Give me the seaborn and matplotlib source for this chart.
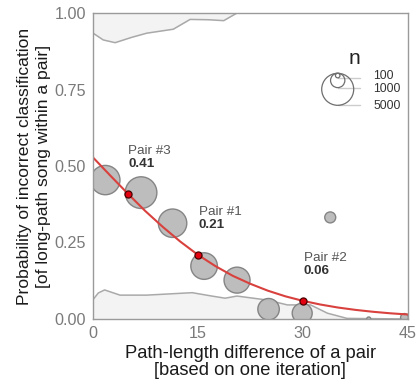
import numpy as np
import pandas as pd
import matplotlib
matplotlib.use("Agg")
import matplotlib.pyplot as plt
import seaborn as sns

# ---- data ----
bubble_x = [1.8, 6.9, 11.4, 15.9, 20.6, 25.1, 29.9, 33.9, 39.4, 44.5]
bubble_y = [0.454, 0.413, 0.313, 0.173, 0.127, 0.032, 0.019, 0.332, 0.0, 0.005]
bubble_n = [4200, 4900, 3950, 3450, 3300, 2250, 1950, 590, 80, 300]

curve_x = [0, 2.5, 5, 7.5, 10, 12.5, 15, 17.5, 20, 22.5, 25, 27.5, 30, 32.5,
           35, 37.5, 40, 42.5, 45]
curve_y = [0.529, 0.469, 0.410, 0.353, 0.301, 0.253, 0.210, 0.173, 0.141,
           0.115, 0.0925, 0.0741, 0.0593, 0.0473, 0.0375, 0.0298, 0.0236,
           0.0186, 0.0147]

pair_names = ["Pair #3", "Pair #1", "Pair #2"]
pair_x = [5, 15, 30]
pair_p = [0.41, 0.21, 0.06]

top_band_x = [0, 1.5, 3.2, 5.5, 7.7, 11.5, 13.9, 16.5, 18.7, 20.6, 45]
top_band_y = [0.935, 0.912, 0.903, 0.92, 0.934, 0.947, 0.979, 0.978, 0.975, 1.0, 1.0]

bot_band_x = [0, 0.8, 1.7, 3.9, 7.7, 14.2, 17.0, 18.9, 20.6, 24.9, 27.8, 31.1,
              33.5, 36.3, 45]
bot_band_y = [0.062, 0.085, 0.095, 0.078, 0.078, 0.086, 0.075, 0.068, 0.075,
              0.062, 0.046, 0.046, 0.019, 0.002, 0.0]

legend_n = [100, 1000, 5000]
legend_labels = ["100", "1000", "5000"]

x_ticks = [0, 15, 30, 45]
y_ticks = [0.0, 0.25, 0.5, 0.75, 1.0]
y_tick_labels = ["0.00", "0.25", "0.50", "0.75", "1.00"]

# ---- figure ----
sns.set_theme(style="white")
plt.rcParams["font.family"] = ["Liberation Sans", "DejaVu Sans"]

W, H, DPI = 418, 388, 100
fig = plt.figure(figsize=(W / DPI, H / DPI), dpi=DPI)
ax_l, ax_r, ax_t, ax_b = 92.7, 408, 13, 319
ax = fig.add_axes([ax_l / W, (H - ax_b) / H, (ax_r - ax_l) / W, (ax_b - ax_t) / H])
ax_w_px, ax_h_px = ax_r - ax_l, ax_b - ax_t

band_fill = "#f3f3f3"
band_line = "#a9a9a9"
ax.fill_between(top_band_x, top_band_y, 1.05, color=band_fill, zorder=1, lw=0)
sns.lineplot(x=top_band_x, y=top_band_y, ax=ax, color=band_line, lw=1.1, zorder=2)
ax.fill_between(bot_band_x, -0.05, bot_band_y, color=band_fill, zorder=1, lw=0)
sns.lineplot(x=bot_band_x, y=bot_band_y, ax=ax, color=band_line, lw=1.1, zorder=2)

# bubble size: radius 16 px for n = 5000 -> area in pt^2
r5000 = 16.0
s5000 = (2 * r5000 * 72 / DPI) ** 2
df = pd.DataFrame({"x": bubble_x, "y": bubble_y, "n": bubble_n})
sns.scatterplot(data=df, x="x", y="y", size="n", sizes=(0, s5000),
                size_norm=(0, 5000), legend=False, ax=ax,
                color="#bababa", edgecolor="#808080", linewidth=1.0,
                alpha=0.95, zorder=3)

sns.lineplot(x=curve_x, y=curve_y, ax=ax, color="#d8413d", lw=1.5, zorder=4)
sns.scatterplot(x=pair_x, y=pair_p, ax=ax, color="#e3000f", edgecolor="#4a0000",
                linewidth=0.9, s=26, zorder=5, legend=False)

for name, px, pp in zip(pair_names, pair_x, pair_p):
    ax.text(px + 0.1, pp + 0.14, name, fontsize=9.7, color="#555555",
            ha="left", va="center", zorder=6)
    ax.text(px + 0.1, pp + 0.096, f"{pp:.2f}", fontsize=9.7, color="#333333",
            fontweight="bold", ha="left", va="center", zorder=6)

# ---- size legend (nested, top-aligned circles) ----
leg_cx = (337.7 - ax_l) / ax_w_px
leg_top = (ax_b - 73.3) / ax_h_px
line_end = (360 - ax_l) / ax_w_px
lab_x = (373 - ax_l) / ax_w_px
lab_shift_px = [-2.0, 1.5, 0.5]
for n, lab, sh in zip(legend_n, legend_labels, lab_shift_px):
    r_px = r5000 * np.sqrt(n / 5000)
    cy = leg_top - r_px / ax_h_px
    by = leg_top - 2 * r_px / ax_h_px
    ax.plot([leg_cx, line_end], [by, by], transform=ax.transAxes,
            color="#cccccc", lw=1.0, zorder=6, clip_on=False)
    ax.scatter([leg_cx], [cy], s=(2 * r_px * 72 / DPI) ** 2, transform=ax.transAxes,
               facecolor="none", edgecolor="#6e6e6e", linewidth=0.9, zorder=7,
               clip_on=False)
    ax.text(lab_x, by - sh / ax_h_px, lab, transform=ax.transAxes, fontsize=8.8,
            color="#333333", ha="left", va="center", zorder=7)
ax.text((354 - ax_l) / ax_w_px, (ax_b - 58) / ax_h_px, "n", transform=ax.transAxes,
        fontsize=15, color="#222222", ha="center", va="center")

# ---- axes ----
ax.set_xlim(0, 45)
ax.set_ylim(0, 1)
ax.set_xticks(x_ticks)
ax.set_xticklabels([str(t) for t in x_ticks])
ax.set_yticks(y_ticks)
ax.set_yticklabels(y_tick_labels)
ax.tick_params(axis="both", length=0, labelsize=11.6, labelcolor="#7a7a7a", pad=5)
for sp in ax.spines.values():
    sp.set_color("#9a9a9a")
    sp.set_linewidth(1.0)
    sp.set_zorder(10)
ax.set_xlabel("Path-length difference of a pair\n[based on one iteration]",
              fontsize=13.2, color="#1a1a1a", linespacing=1.0, labelpad=3)
ax.set_ylabel("Probability of incorrect classification\n[of long-path song within a pair]",
              fontsize=12.6, color="#1a1a1a", linespacing=1.35, labelpad=2)
ax.grid(False)

fig.savefig("out.png", dpi=DPI)
